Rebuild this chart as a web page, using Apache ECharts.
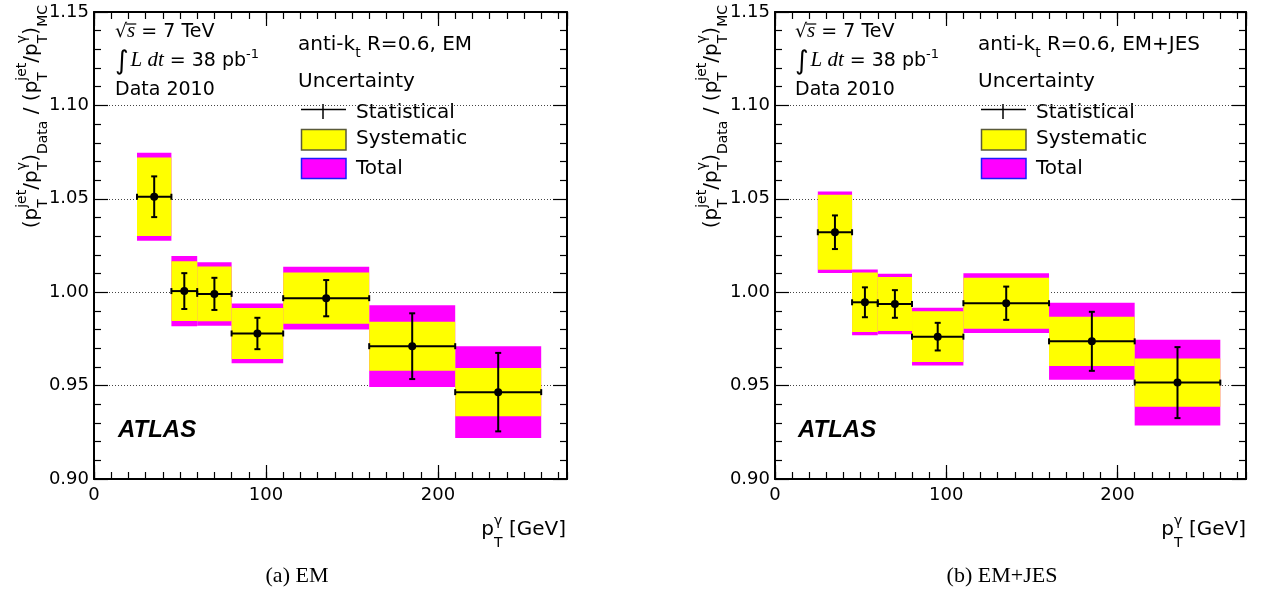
<!DOCTYPE html>
<html><head><meta charset="utf-8">
<script src="https://cdn.jsdelivr.net/npm/echarts@6/dist/echarts.min.js"></script>
<style>html,body{margin:0;padding:0;background:#fff}#c{width:1265px;height:595px}</style>
</head><body><div id="c"></div>
<script>
// ---------------- data ----------------
const binEdges   = [25, 45, 60, 80, 110, 160, 210, 260];
const binCenters = [35, 52.5, 70, 95, 135, 185, 235];
// (a) EM
const emValues = [1.0511, 1.0006, 0.9991, 0.9779, 0.9968, 0.9711, 0.9465];
const emStat   = [0.0109, 0.0096, 0.0086, 0.0084, 0.0097, 0.0176, 0.0210];
const emSyst   = [0.0210, 0.0160, 0.0147, 0.0137, 0.0137, 0.0131, 0.0129];
const emTotal  = [0.0235, 0.0188, 0.0170, 0.0160, 0.0168, 0.0219, 0.0246];
// (b) EM+JES
const jesValues = [1.0321, 0.9946, 0.9937, 0.9762, 0.9941, 0.9737, 0.9516];
const jesStat   = [0.0090, 0.0080, 0.0074, 0.0074, 0.0089, 0.0158, 0.0190];
const jesSyst   = [0.0201, 0.0159, 0.0145, 0.0136, 0.0137, 0.0132, 0.0129];
const jesTotal  = [0.0218, 0.0176, 0.0162, 0.0155, 0.0160, 0.0206, 0.0230];
// axes
const xMin = 0, xMax = 275, xMajor = 100, xMinor = 10;
const yMin = 0.90, yMax = 1.15, yMajor = 0.05;
const panelLabels = ['EM', 'EM+JES'];
const captions = ['(a) EM', '(b) EM+JES'];

// ---------------- styling ----------------
const SANS = "'DejaVu Sans', sans-serif";
const ARIAL = "'Liberation Sans', Arial, sans-serif";
const SERIF = "'Liberation Serif', 'Times New Roman', serif";
const YELLOW = '#ffff00', MAGENTA = '#ff00ff';

const mctx = document.createElement('canvas').getContext('2d');
function fstr(p){ return (p.it?'italic ':'') + (p.b?'bold ':'') + p.s + 'px ' + (p.fam || SANS); }
function tw(t, p){ mctx.font = fstr(p); return mctx.measureText(t).width; }
function richText(pieces, o){
  let x = 0, prevStart = 0, prevW = 0; const kids = [];
  pieces.forEach(p => {
    const w = tw(p.t, p);
    let px = x;
    if (p.st){ px = prevStart; prevW = Math.max(prevW, w); x = prevStart + prevW; }
    else { prevStart = x; prevW = w; x += w; }
    kids.push({type:'text', x:px, y:(p.dy||0) - 0.35*p.s, silent:true,
      style:{text:p.t, fontSize:p.s, fontFamily:p.fam||SANS, fontStyle:p.it?'italic':'normal',
             fontWeight:p.b?'bold':'normal', fill:'#000', align:'left', verticalAlign:'middle'}});
    if (p.over){
      kids.push({type:'line', silent:true, shape:{x1:px-1, y1:(p.dy||0)-p.over, x2:px+w+1, y2:(p.dy||0)-p.over},
                 style:{stroke:'#000', lineWidth:1.2}});
    }
  });
  const shift = o.align==='right' ? -x : (o.align==='center' ? -x/2 : 0);
  kids.forEach(k => { if (k.type==='text') k.x += shift; else { k.shape.x1 += shift; k.shape.x2 += shift; } });
  return {type:'group', x:o.x, y:o.y, rotation:o.rotation||0, silent:true, children:kids};
}

function panelGraphics(g){
  const dx = g === 0 ? 0 : 680;
  const S = 20, s = 14;
  const els = [];
  // energy / lumi / data
  els.push(richText([{t:'√', s:19}, {t:'s', s:21, it:true, fam:SERIF, over:15}, {t:' = 7 TeV', s:19}], {x:115+dx, y:39}));
  els.push(richText([{t:'∫', s:26, dy:3}, {t:' ', s:6}, {t:'L dt', s:21, it:true, fam:SERIF}, {t:' = 38 pb', s:19}, {t:'-1', s:13, dy:-9}], {x:115+dx, y:68}));
  els.push(richText([{t:'Data 2010', s:19}], {x:115+dx, y:96.5}));
  // algorithm label
  els.push(richText([{t:'anti-k', s:S}, {t:'t', s:s, dy:7}, {t:' R=0.6, ' + panelLabels[g], s:S}], {x:298+dx, y:51.7}));
  els.push(richText([{t:'Uncertainty', s:S}], {x:298+dx, y:88.3}));
  // legend
  els.push({type:'line', silent:true, shape:{x1:301+dx, y1:109.5, x2:346+dx, y2:109.5}, style:{stroke:'#000', lineWidth:1.5}});
  els.push({type:'line', silent:true, shape:{x1:323+dx, y1:104, x2:323+dx, y2:119}, style:{stroke:'#000', lineWidth:1.5}});
  els.push(richText([{t:'Statistical', s:S}], {x:356+dx, y:119.3}));
  els.push({type:'rect', silent:true, shape:{x:301.5+dx, y:129.5, width:44.5, height:20.5}, style:{fill:YELLOW, stroke:'#5a5a3a', lineWidth:1.5}});
  els.push(richText([{t:'Systematic', s:S}], {x:356+dx, y:145.3}));
  els.push({type:'rect', silent:true, shape:{x:301.5+dx, y:158.5, width:44.5, height:20}, style:{fill:MAGENTA, stroke:'#1a1aff', lineWidth:1.5}});
  els.push(richText([{t:'Total', s:S}], {x:356+dx, y:175.3}));
  // ATLAS
  els.push(richText([{t:'ATLAS', s:24, b:true, it:true, fam:ARIAL}], {x:118+dx, y:438.5}));
  // x axis title
  els.push(richText([{t:'p', s:S}, {t:'T', s:s, dy:11}, {t:'γ', s:s, dy:-11, st:true}, {t:' [GeV]', s:S}], {x:566+dx, y:537, align:'right'}));
  // y axis title (rotated, right-aligned to the top of the frame)
  const P = [{t:'(', s:S}, {t:'p', s:S}, {t:'T', s:s, dy:9}, {t:'jet', s:s, dy:-12, st:true}, {t:'/', s:S},
             {t:'p', s:S}, {t:'T', s:s, dy:9}, {t:'γ', s:s, dy:-12, st:true}, {t:')', s:S}];
  const yPieces = [...P, {t:'Data', s:s, dy:9}, {t:' / ', s:S}, ...P, {t:'MC', s:s, dy:9}];
  els.push(richText(yPieces, {x:39+dx, y:5, rotation:Math.PI/2, align:'right'}));
  // caption
  els.push(richText([{t:captions[g], s:22, fam:SERIF}], {x:(g===0?297:1002), y:584, align:'center'}));
  return els;
}

// ---------------- axes ----------------
const AXL = {color:'#000', width:2};
const TICK = {color:'#000', width:1.2};
const grids = [
  {left:94, top:12, width:473, height:467, outerBoundsMode:'none'},
  {left:775, top:12, width:471, height:467, outerBoundsMode:'none'}
];
const xAxes = [], yAxes = [];
[0,1].forEach(g => {
  const base = {gridIndex:g, type:'value', min:xMin, max:xMax, splitLine:{show:false}};
  xAxes.push(
    {...base, position:'bottom', interval:xMajor, axisLine:{onZero:false, lineStyle:AXL},
      axisTick:{inside:true, length:14, lineStyle:TICK},
      axisLabel:{fontSize:18, fontFamily:SANS, color:'#000', margin:7, showMaxLabel:false}},
    {...base, position:'bottom', interval:xMinor, axisLine:{show:false},
      axisTick:{inside:true, length:7, lineStyle:TICK}, axisLabel:{show:false}},
    {...base, position:'top', interval:xMajor, axisLine:{onZero:false, lineStyle:AXL},
      axisTick:{inside:true, length:14, lineStyle:TICK}, axisLabel:{show:false}},
    {...base, position:'top', interval:xMinor, axisLine:{show:false},
      axisTick:{inside:true, length:7, lineStyle:TICK}, axisLabel:{show:false}}
  );
  const yb = {gridIndex:g, type:'value', min:yMin, max:yMax, interval:yMajor};
  yAxes.push(
    {...yb, position:'left', axisLine:{onZero:false, lineStyle:AXL},
      axisTick:{inside:true, length:14, lineStyle:TICK},
      minorTick:{show:true, splitNumber:5, length:7, lineStyle:TICK},
      axisLabel:{fontSize:18, fontFamily:SANS, color:'#000', margin:5, formatter:v => v.toFixed(2)},
      splitLine:{show:true, lineStyle:{color:'#444', width:1, type:[1,2]}}},
    {...yb, position:'right', axisLine:{onZero:false, lineStyle:AXL},
      axisTick:{inside:true, length:14, lineStyle:TICK},
      minorTick:{show:true, splitNumber:5, length:7, lineStyle:TICK},
      axisLabel:{show:false}, splitLine:{show:false}}
  );
});

// ---------------- series ----------------
function boxSeries(g, values, errs, color, z){
  return {type:'custom', xAxisIndex:g*4, yAxisIndex:g*2, z:z, silent:true,
    data: values.map((v,i) => [binEdges[i], binEdges[i+1], v - errs[i], v + errs[i]]),
    encode:{x:[0,1], y:[2,3]},
    renderItem:(params, api) => {
      const a = api.coord([api.value(0), api.value(3)]);
      const b = api.coord([api.value(1), api.value(2)]);
      return {type:'rect', shape:{x:a[0], y:a[1], width:b[0]-a[0], height:b[1]-a[1]}, style:{fill:color}};
    }};
}
function errSeries(g, values, stat){
  return {type:'custom', xAxisIndex:g*4, yAxisIndex:g*2, z:5, silent:true,
    data: values.map((v,i) => [binCenters[i], v, binEdges[i], binEdges[i+1], v - stat[i], v + stat[i]]),
    encode:{x:[0,2,3], y:[1,4,5]},
    renderItem:(params, api) => {
      const c = api.coord([api.value(0), api.value(1)]);
      const l = api.coord([api.value(2), api.value(1)]);
      const r = api.coord([api.value(3), api.value(1)]);
      const t = api.coord([api.value(0), api.value(5)]);
      const b = api.coord([api.value(0), api.value(4)]);
      const st = {stroke:'#000', lineWidth:2};
      const cap = 3;
      const ln = (x1,y1,x2,y2) => ({type:'line', shape:{x1,y1,x2,y2}, style:st});
      return {type:'group', children:[
        ln(l[0], l[1], r[0], r[1]),
        ln(t[0], t[1], b[0], b[1]),
        ln(l[0], l[1]-cap, l[0], l[1]+cap),
        ln(r[0], r[1]-cap, r[0], r[1]+cap),
        ln(t[0]-cap, t[1], t[0]+cap, t[1]),
        ln(b[0]-cap, b[1], b[0]+cap, b[1]),
        {type:'circle', shape:{cx:c[0], cy:c[1], r:4}, style:{fill:'#000'}}
      ]};
    }};
}
const series = [
  boxSeries(0, emValues, emTotal, MAGENTA, 2), boxSeries(0, emValues, emSyst, YELLOW, 3), errSeries(0, emValues, emStat),
  boxSeries(1, jesValues, jesTotal, MAGENTA, 2), boxSeries(1, jesValues, jesSyst, YELLOW, 3), errSeries(1, jesValues, jesStat)
];

const chart = echarts.init(document.getElementById('c'), null, {renderer:'canvas'});
chart.setOption({
  animation:false,
  backgroundColor:'#fff',
  grid:grids, xAxis:xAxes, yAxis:yAxes, series:series,
  graphic:{elements:[...panelGraphics(0), ...panelGraphics(1)]}
});
</script></body></html>
